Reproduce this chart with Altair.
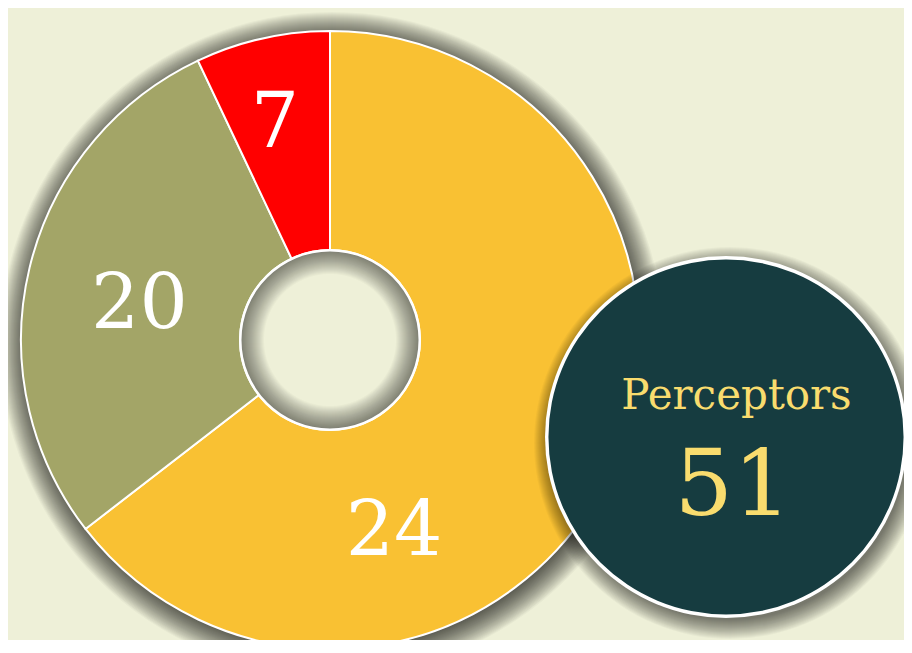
import math
import altair as alt
import pandas as pd

# ---- data ----
categories = ["Yellow", "Olive", "Red"]
label_values = [24, 20, 7]
sweep_deg = [232.3, 102.4, 25.3]          # angular size of each slice as drawn
slice_colors = ["#F9C133", "#A3A567", "#FF0000"]
total_label = "Perceptors"
total_value = 51

# ---- layout / style constants ----
BG = "#EEF0D8"
CX, CY = 322, 332          # donut centre (plot px)
R_OUT, R_IN = 309, 90
BX, BY, BR = 718, 429, 181  # badge circle
FONT = "Rockwell, 'Roboto Slab', 'DejaVu Serif', serif"
label_polar = {"Yellow": (163.4, 224.3), "Olive": (273.6, 190.9), "Red": (344.1, 200.7)}
BLUR = list(range(0, 26))   # soft-shadow ring offsets (px)

df = pd.DataFrame({"cat": categories, "val": label_values, "sweep": sweep_deg,
                   "idx": list(range(len(categories)))})
df["txt"] = df["val"].astype(str)
df["lx"] = [CX + label_polar[c][1] * math.sin(math.radians(label_polar[c][0])) for c in categories]
df["ly"] = [CY - label_polar[c][1] * math.cos(math.radians(label_polar[c][0])) for c in categories]

FULL = 2 * math.pi


def rad(field):
    return alt.Radius(field, scale=None, stack=False)


# outer shadow of donut
sh = pd.DataFrame({"r": [R_OUT - 2 + b for b in BLUR]})
donut_shadow = alt.Chart(sh).mark_arc(theta=0, theta2=FULL, fill="black", opacity=0.032).encode(
    radius=rad("r:Q"), x=alt.value(CX + 2), y=alt.value(CY + 4))

donut = alt.Chart(df).mark_arc(innerRadius=R_IN, outerRadius=R_OUT, stroke="white", strokeWidth=2).encode(
    theta=alt.Theta("sweep:Q", stack=True),
    order=alt.Order("idx:Q"),
    color=alt.Color("cat:N", scale=alt.Scale(domain=categories, range=slice_colors), legend=None),
    x=alt.value(CX), y=alt.value(CY))

# hole with inset shadow
hole_fill = alt.Chart(pd.DataFrame({"r": [R_IN]})).mark_arc(theta=0, theta2=FULL, fill=BG).encode(
    radius=rad("r:Q"), x=alt.value(CX), y=alt.value(CY))
ins = pd.DataFrame({"r2": [R_IN - 1 - b for b in BLUR[:24]], "r": [R_IN] * 24})
hole_shadow = alt.Chart(ins).mark_arc(theta=0, theta2=FULL, fill="black", opacity=0.025).encode(
    radius=rad("r:Q"), radius2=alt.Radius2("r2:Q"),
    x=alt.value(CX), y=alt.value(CY))
hole_ring = alt.Chart(pd.DataFrame({"r": [R_IN + 1], "r2": [R_IN - 1.5]})).mark_arc(
    theta=0, theta2=FULL, fill="white").encode(
    radius=rad("r:Q"), radius2=alt.Radius2("r2:Q"),
    x=alt.value(CX), y=alt.value(CY))

labels = alt.Chart(df).mark_text(font=FONT, fontSize=76, color="white", align="center",
                                 baseline="alphabetic").encode(
    x=alt.X("lx:Q", scale=None), y=alt.Y("ly:Q", scale=None), text="txt:N")

# badge
bsh = pd.DataFrame({"r": [BR - 4 + b for b in BLUR[:20]]})
badge_shadow = alt.Chart(bsh).mark_arc(theta=0, theta2=FULL, fill="black", opacity=0.03).encode(
    radius=rad("r:Q"), x=alt.value(BX + 4), y=alt.value(BY + 6))
badge_ring = alt.Chart(pd.DataFrame({"r": [BR]})).mark_arc(theta=0, theta2=FULL, fill="white").encode(
    radius=rad("r:Q"), x=alt.value(BX), y=alt.value(BY))
badge = alt.Chart(pd.DataFrame({"r": [BR - 3.5]})).mark_arc(theta=0, theta2=FULL, fill="#163C40").encode(
    radius=rad("r:Q"), x=alt.value(BX), y=alt.value(BY))
tdf = pd.DataFrame({"t": [total_label, str(total_value)], "x": [728.5, 725], "y": [401, 507]})
badge_title = alt.Chart(tdf.iloc[[0]]).mark_text(font=FONT, fontSize=42, color="#F9DC6E",
                                                  align="center", baseline="alphabetic").encode(
    x=alt.X("x:Q", scale=None), y=alt.Y("y:Q", scale=None), text="t:N")
badge_value = alt.Chart(tdf.iloc[[1]]).mark_text(font=FONT, fontSize=92, color="#F9DC6E",
                                                  align="center", baseline="alphabetic").encode(
    x=alt.X("x:Q", scale=None), y=alt.Y("y:Q", scale=None), text="t:N")

chart = alt.layer(donut_shadow, donut, hole_fill, hole_shadow, hole_ring, labels,
                  badge_shadow, badge_ring, badge, badge_title, badge_value).properties(
    width=896, height=632, padding=0, autosize=alt.AutoSizeParams(type="none"),
    background=BG
).configure_view(stroke=None)

chart.save("out.html", embed_options={"renderer": "svg", "actions": False})
